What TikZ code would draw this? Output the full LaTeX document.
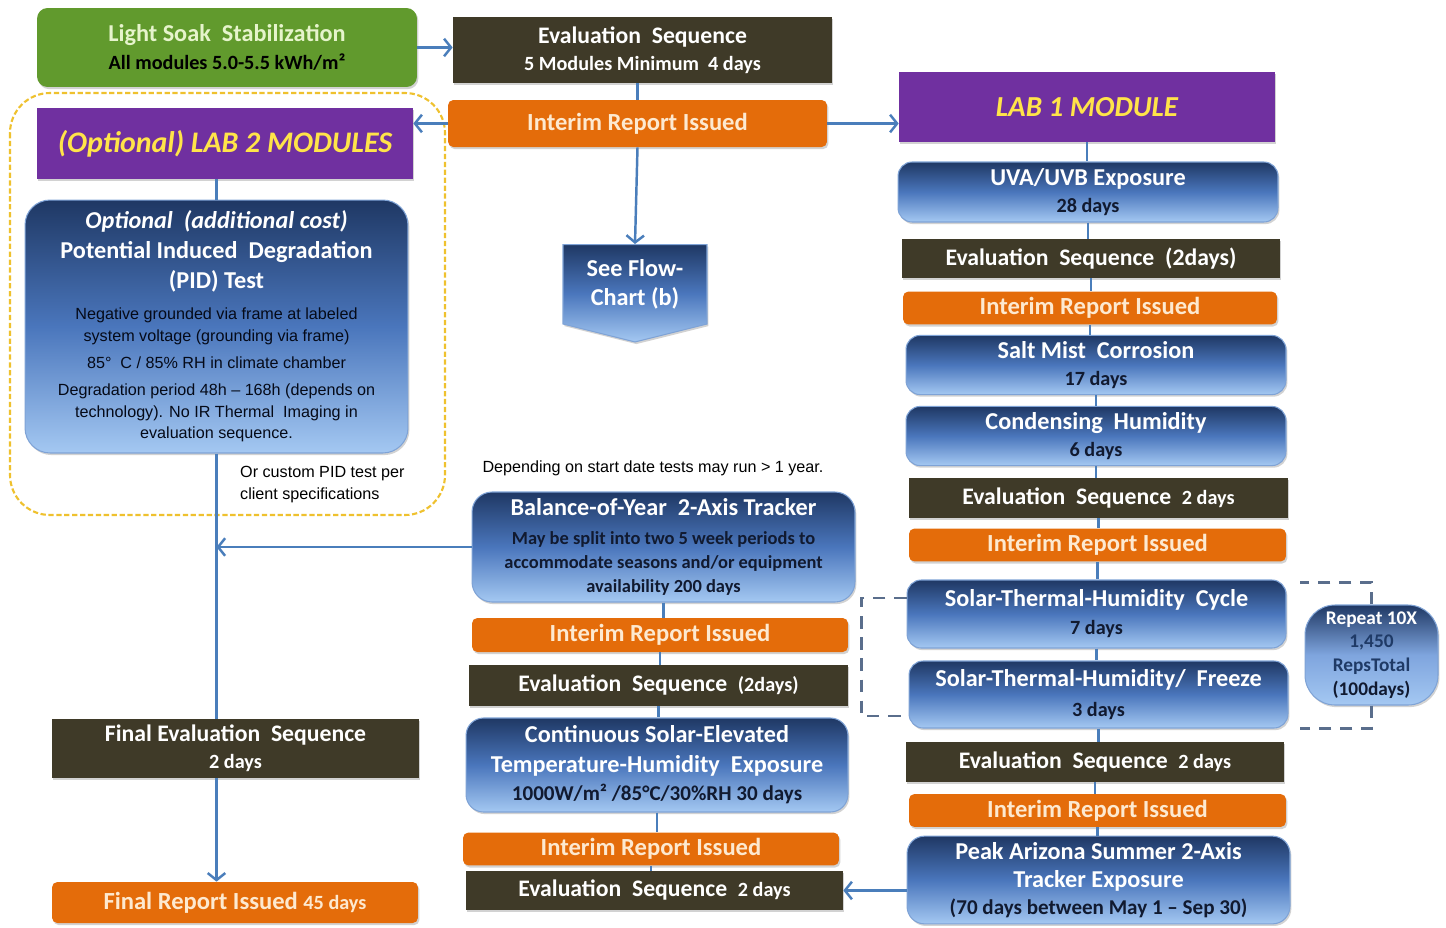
\documentclass[tikz,border=0pt]{standalone}
\usepackage{fontspec}
\setmainfont{Carlito}
\newfontfamily\arialfont{Liberation Sans}
\usepackage{tikz}
\usetikzlibrary{positioning, shapes.symbols, arrows.meta, shadows}

\definecolor{evalc}{HTML}{3F3A28}
\definecolor{reportc}{HTML}{E46C0A}
\definecolor{reporttxt}{HTML}{FDE9D0}
\definecolor{labc}{HTML}{7030A0}
\definecolor{labtxt}{HTML}{FFE449}
\definecolor{soakc}{HTML}{619A2D}
\definecolor{soaktxt}{HTML}{E6F4CC}
\definecolor{gradtop}{HTML}{1F3864}
\definecolor{gradmid}{HTML}{4A76BC}
\definecolor{gradlite}{HTML}{7FA5DE}
\definecolor{gradbot}{HTML}{A4C8F2}
\definecolor{gradedge}{HTML}{7FA3D6}
\definecolor{darktxt}{HTML}{111A30}
\definecolor{pidtxt}{HTML}{050A18}
\definecolor{repc1}{HTML}{1F3A66}
\definecolor{linkc}{HTML}{4A7EBB}
\definecolor{loopc}{HTML}{5A6E8C}
\definecolor{framec}{HTML}{EFC12E}

\newcommand{\boxttl}{\fontsize{13.8}{17}\selectfont\bfseries}
\newcommand{\evalttl}{\fontsize{13.5}{17}\selectfont\bfseries}
\newcommand{\repttl}{\fontsize{14}{17}\selectfont\bfseries}
\newcommand{\boxsml}{\fontsize{11.5}{13}\selectfont\bfseries}
\newcommand{\notesml}{\arialfont\fontsize{9.2}{12.5}\selectfont}
\newcommand{\darkln}[1]{{\boxsml\color{darktxt}#1}}
\newcommand{\darklg}[1]{{\fontsize{12}{14}\selectfont\bfseries\color{darktxt}#1}}
\newcommand{\pidln}[1]{{\notesml\mdseries\color{pidtxt}#1}}
\newcommand{\balln}[1]{{\fontsize{10.5}{13}\selectfont\bfseries\color{darktxt}#1}}

\begin{document}
\begin{tikzpicture}[x=0.02cm, y=-0.02cm,
    boxshadow/.style={drop shadow={opacity=0.35, shadow xshift=0.8pt, shadow yshift=-1.2pt}},
    soakbox/.style={boxshadow, fill=soakc, text=soaktxt, rounded corners=6pt, align=center, font=\boxttl},
    evalbox/.style={boxshadow, fill=evalc, text=white, align=center, font=\evalttl},
    reportbox/.style={boxshadow, fill=reportc, text=reporttxt, rounded corners=3pt, font=\repttl},
    labbox/.style={boxshadow, fill=labc, text=labtxt},
    testbox/.style={boxshadow, draw=gradedge, line width=0.6pt, top color=gradtop, bottom color=gradbot, middle color=gradmid, text=white, align=center, rounded corners=8pt, font=\boxttl},
    link/.style={draw=linkc, line width=1.4pt},
    flow/.style={link, -{Straight Barb[length=4pt, width=10pt, line width=1.4pt]}},
    loopline/.style={draw=loopc, line width=1.5pt, dash pattern=on 7pt off 5pt}]
    \fill[white] (0,0) rectangle (1446,927);
    \useasboundingbox (0,0) rectangle (1446,927);

    % optional lab 2 frame
    \draw[framec, line width=1.2pt, dash pattern=on 3pt off 1.5pt, rounded corners=0.8cm] (10,93) rectangle (445,515);

    % top row
    \node[soakbox, minimum width=7.6cm, minimum height=1.58cm] (soak) at (227,47.5)
        {Light Soak~~Stabilization\\[-1.5pt]{\boxsml\color{black}All modules 5.0-5.5 kWh/m²}};
    \node[evalbox, minimum width=7.58cm, minimum height=1.32cm] (evaltop) at (642.5,50)
        {Evaluation~~Sequence\\[-1.5pt]{\boxsml 5 Modules Minimum~~4 days}};
    \node[reportbox, minimum width=7.58cm, minimum height=0.94cm] (reptop) at (637.5,123.5) {Interim Report Issued};
    \node[testbox, signal, signal to=south, signal pointer angle=152, rounded corners=0pt, minimum width=2.88cm, minimum height=1.86cm, anchor=north] (flowb) at (635,244) {See Flow-\\[-1pt]Chart (b)};

    % lab 2
    \node[labbox, minimum width=7.52cm, minimum height=1.42cm, font=\fontsize{17}{20}\selectfont\bfseries\itshape] (lab2) at (225,143.5) {(Optional) LAB 2 MODULES};
    \node[testbox, rounded corners=0.5cm, minimum width=7.66cm, minimum height=5.06cm] (pid) at (216.5,326.5)
        {{\itshape Optional~~(additional cost)}\\
         Potential Induced~~Degradation\\
         (PID) Test\\[0.6pt]
         \pidln{Negative grounded via frame at labeled}\\[-4.5pt]
         \pidln{system voltage (grounding via frame)}\\[-1.7pt]
         \pidln{85°~~C / 85\% RH in climate chamber}\\[-1.7pt]
         \pidln{Degradation period 48h \textendash{} 168h (depends on}\\[-4.5pt]
         \pidln{technology). No IR Thermal~~Imaging in}\\[-4.5pt]
         \pidln{evaluation sequence.}};
    \node[font=\notesml, align=left, anchor=west] (custom) at (234,485) {Or custom PID test per\\client specifications};

    % middle column
    \node[font=\notesml] (depend) at (653,468) {Depending on start date tests may run > 1 year.};
    \node[testbox, rounded corners=0.4cm, minimum width=7.66cm, minimum height=2.2cm] (balance) at (663.5,547)
        {Balance-of-Year~~2-Axis Tracker\\[-0.6pt]
         \balln{May be split into two 5 week periods to}\\[-3.1pt]
         \balln{accommodate seasons and/or equipment}\\[-3.1pt]
         \balln{availability 200 days}};
    \node[reportbox, minimum width=7.52cm, minimum height=0.68cm] (repm1) at (660,635) {Interim Report Issued};
    \node[evalbox, minimum width=7.58cm, minimum height=0.82cm] (evalm1) at (658.5,685.5) {Evaluation~~Sequence~~{\boxsml(2days)}};
    \node[testbox, rounded corners=0.35cm, minimum width=7.64cm, minimum height=1.88cm] (cont) at (657,765)
        {Continuous Solar-Elevated\\Temperature-Humidity~~Exposure\\[-1pt]\darklg{1000W/m² /85°C/30\%RH 30 days}};
    \node[reportbox, minimum width=7.52cm, minimum height=0.64cm] (repm2) at (651,849) {Interim Report Issued};
    \node[evalbox, minimum width=7.54cm, minimum height=0.78cm] (evalm2) at (654.5,890.5) {Evaluation~~Sequence~~{\boxsml 2 days}};

    % lab 1
    \node[labbox, minimum width=7.52cm, minimum height=1.4cm, font=\fontsize{16.5}{20}\selectfont\bfseries\itshape] (lab1) at (1087,107) {LAB 1 MODULE};
    \node[testbox, minimum width=7.6cm, minimum height=1.2cm] (uv) at (1088,192) {UVA/UVB Exposure\\[-1.5pt]\darkln{28 days}};
    \node[evalbox, minimum width=7.56cm, minimum height=0.78cm] (evalr1) at (1091,258.5) {Evaluation~~Sequence~~(2days)};
    \node[reportbox, minimum width=7.48cm, minimum height=0.6cm] (repr1) at (1090,308) {Interim Report Issued};
    \node[testbox, minimum width=7.6cm, minimum height=1.08cm] (salt) at (1096,365) {Salt Mist~~Corrosion\\[-1.5pt]\darkln{17 days}};
    \node[testbox, minimum width=7.6cm, minimum height=1.12cm] (cond) at (1096,436) {Condensing~~Humidity\\[-1.5pt]\darkln{6 days}};
    \node[evalbox, minimum width=7.58cm, minimum height=0.8cm] (evalr2) at (1098.5,498) {Evaluation~~Sequence~~{\boxsml 2 days}};
    \node[reportbox, minimum width=7.54cm, minimum height=0.6cm] (repr2) at (1097.5,545) {Interim Report Issued};
    \node[testbox, minimum width=7.58cm, minimum height=1.36cm] (cycle) at (1096.5,614) {Solar-Thermal-Humidity~~Cycle\\[-1pt]\darkln{7 days}};
    \node[testbox, minimum width=7.58cm, minimum height=1.34cm] (freeze) at (1098.5,694.5) {Solar-Thermal-Humidity/~~Freeze\\[0.5pt]\darkln{3 days}};
    \node[testbox, middle color=gradlite, rounded corners=0.6cm, minimum width=2.66cm, minimum height=2cm, font=\fontsize{11}{13.5}\selectfont\bfseries] (repeat) at (1371.5,655)
        {Repeat 10X\\{\color{repc1}1,450}\\{\color{repc1}RepsTotal}\\{\color{darktxt}(100days)}};
    \node[evalbox, minimum width=7.56cm, minimum height=0.8cm] (evalr3) at (1095,762) {Evaluation~~Sequence~~{\boxsml 2 days}};
    \node[reportbox, minimum width=7.54cm, minimum height=0.62cm] (repr3) at (1097.5,810.5) {Interim Report Issued};
    \node[testbox, rounded corners=0.35cm, minimum width=7.66cm, minimum height=1.72cm] (peak) at (1098.5,880)
        {Peak Arizona Summer 2-Axis\\[-0.6pt]Tracker Exposure\\[-1.7pt]\darklg{(70 days between May 1 \textendash{} Sep 30)}};

    % final
    \node[evalbox, minimum width=7.34cm, minimum height=1.18cm] (finaleval) at (235.5,748.5) {Final Evaluation~~Sequence\\[-1.5pt]{\boxsml 2 days}};
    \node[reportbox, minimum width=7.32cm, minimum height=0.82cm] (finalrep) at (235,902.5) {Final Report Issued~{\boxsml 45 days}};

    % connectors
    \draw[flow] (soak.east) -- (soak.east -| evaltop.west);
    \draw[link] (evaltop.south -| reptop) -- (reptop.north);
    \draw[flow] (reptop.east) -- (reptop.east -| lab1.west);
    \draw[flow] (reptop.west) -- (reptop.west -| lab2.east);
    \draw[flow] (reptop.south) -- (flowb.north);
    \draw[link] (lab2.south -| pid.north) -- (pid.north);
    \draw[link] (pid.south) -- (pid.south |- finaleval.north);
    \draw[flow] (balance.west) -- (balance.west -| pid.south);
    \draw[flow] (finaleval.south -| pid.south) -- (pid.south |- finalrep.north);
    \foreach \a/\b in {lab1/uv, uv/evalr1, evalr1/repr1, repr1/salt, salt/cond, cond/evalr2, evalr2/repr2, repr2/cycle, cycle/freeze, freeze/evalr3, evalr3/repr3, repr3/peak}
        \draw[link] (\a.south) -- (\a.south |- \b.north);
    \foreach \a/\b in {balance/repm1, repm1/evalm1, evalm1/cont, cont/repm2, repm2/evalm2}
        \draw[link] (\a.south) -- (\a.south |- \b.north);
    \draw[flow] (evalm2.east -| peak.west) -- (evalm2.east);

    % repeat loop
    \draw[loopline] ([yshift=0.32cm]cycle.west) -- ++(-45,0) |- ([yshift=-0.43cm]freeze.west);
    \draw[loopline] (repeat.north) -- ++(0,-22) -- ++(-72,0);
    \draw[loopline] (repeat.south) -- ++(0,23) -- ++(-72,0);
\end{tikzpicture}
\end{document}
